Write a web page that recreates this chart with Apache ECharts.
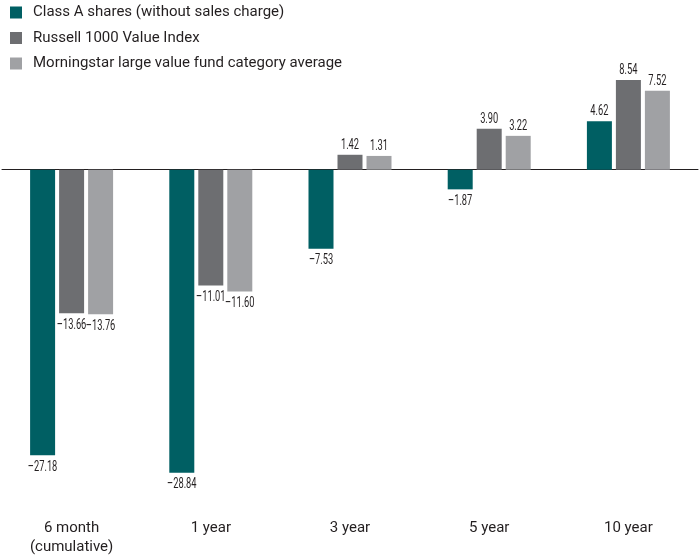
<!DOCTYPE html>
<html><head><meta charset="utf-8">
<script src="https://cdn.jsdelivr.net/npm/echarts@6/dist/echarts.min.js"></script>
<style>html,body{margin:0;padding:0;background:#fff}#c{width:700px;height:557px}</style>
</head><body><div id="c"></div>
<script>
const categories = ['6 month\n(cumulative)', '1 year', '3 year', '5 year', '10 year'];
const seriesNames = ['Class A shares (without sales charge)', 'Russell 1000 Value Index', 'Morningstar large value fund category average'];
const classA = [-27.18, -28.84, -7.53, -1.87, 4.62];
const russell = [-13.66, -11.01, 1.42, 3.90, 8.54];
const morningstar = [-13.76, -11.60, 1.31, 3.22, 7.52];
const colors = ['#005F63', '#6D6E71', '#A0A1A4'];

const BAR_W = 25, BAR_GAP = 4;
const fmt = v => (v < 0 ? '\u2013' + Math.abs(v).toFixed(2) : v.toFixed(2));
const allSeries = [classA, russell, morningstar];

function mk(name, vals, color) {
  return {
    name, type: 'bar', barWidth: BAR_W, barGap: (BAR_GAP / BAR_W * 100) + '%',
    itemStyle: { color },
    data: vals
  };
}

// label points: [categoryIndex, value, seriesIndex]
const labelData = [];
allSeries.forEach((vals, s) => vals.forEach((v, i) => labelData.push([i, v, s])));

const chart = echarts.init(document.getElementById('c'), null, { renderer: 'canvas' });
chart.setOption({
  animation: false,
  color: colors,
  legend: {
    orient: 'vertical', left: 5, top: 0, itemWidth: 12, itemHeight: 12, itemGap: 10.5,
    icon: 'rect',
    textStyle: { fontSize: 15, color: '#231F20', fontFamily: 'Roboto, sans-serif', padding: [0, 0, 0, 6] },
    data: seriesNames
  },
  grid: { left: 2, right: 2, top: 64.6, bottom: 70.8 },
  xAxis: [
    {
      type: 'category', data: categories, position: 'bottom',
      axisLine: { show: false, onZero: false }, axisTick: { show: false },
      axisLabel: { margin: 34, fontSize: 15, lineHeight: 19, color: '#231F20', fontFamily: 'Roboto, sans-serif' }
    },
    {
      type: 'category', data: categories, position: 'bottom',
      axisLine: { show: true, onZero: true, lineStyle: { color: '#231F20', width: 1 } },
      axisTick: { show: false }, axisLabel: { show: false }
    }
  ],
  yAxis: { type: 'value', min: -30, max: 10, show: false, splitLine: { show: false } },
  series: [
    mk(seriesNames[0], classA, colors[0]),
    mk(seriesNames[1], russell, colors[1]),
    mk(seriesNames[2], morningstar, colors[2]),
    {
      type: 'custom', silent: true, xAxisIndex: 0, z: 5,
      encode: { x: 0, y: 1 },
      data: labelData,
      renderItem: function (params, api) {
        const i = api.value(0), v = api.value(1), s = api.value(2);
        const p = api.coord([i, v]);
        const x = p[0] + (s - 1) * (BAR_W + BAR_GAP);
        const neg = v < 0;
        return {
          type: 'text',
          x: x, y: neg ? p[1] + 4 : p[1] - 2,
          scaleX: 0.62,
          style: {
            text: fmt(v), x: 0, y: 0,
            align: 'center', verticalAlign: neg ? 'top' : 'bottom',
            fill: '#231F20', font: '15px Roboto, sans-serif'
          }
        };
      }
    }
  ]
});
</script></body></html>
